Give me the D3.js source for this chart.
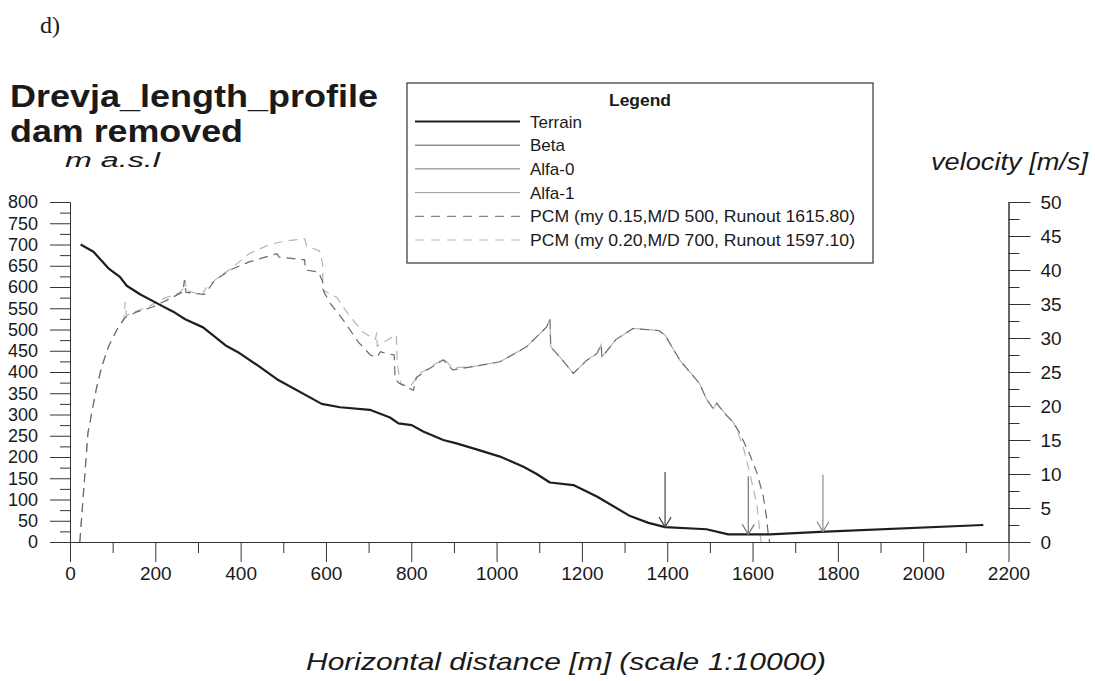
<!DOCTYPE html>
<html>
<head>
<meta charset="utf-8">
<script src="https://cdn.jsdelivr.net/npm/d3@7"></script>
<style>
  body { margin: 0; background: #fff; }
  text { font-family: "Liberation Sans", Arial, sans-serif; fill: #1a1a1a; }
</style>
</head>
<body>
<svg id="chart" width="1095" height="681"></svg>
<script>
// ---- data ----
var terrain = [[25,700],[55,683],[90,644],[117,624],[133,603],[164,583],[211,558],[242,542],[270,524],
  [312,505],[367,461],[398,444],[445,412],[485,383],[590,325],[633,317],[703,311],[750,293],[770,279],
  [801,275],[828,260],[875,240],[906,232],[953,218],[1008,201],[1063,177],[1094,160],[1125,140],
  [1180,134],[1235,107],[1313,61],[1356,45],[1395,35],[1492,30],[1543,18],[1641,18],[1758,24],[2141,40]];

// velocity [m/s] along the path, PCM my 0.15 M/D 500
var pcm1 = [[23,0],[42,16],[61,22.3],[74,25.7],[90,28.7],[109,31.1],[129,33],[155,33.8],[195,34.6],
  [235,35.8],[265,36.8],[268,38.5],[272,36.7],[315,36.4],[340,38.5],[375,40],[420,41.2],[485,42.4],
  [490,41.9],[550,41.5],[552,40],[583,39.7],[592,38.3],[595,36.8],[610,35.1],[641,32.6],[676,29.4],
  [704,27.5],[720,27.2],[728,28],[742,27.7],[760,27.5],[762,24],[770,23.4],[805,22.3],[812,24.2],
  [830,25],[860,26.2],[875,26.8],[897,25.3],[945,25.8],[1008,26.5],[1070,28.7],[1117,31.6],[1125,32.8],
  [1127,28.7],[1155,26.7],[1180,24.8],[1211,26.7],[1235,27.7],[1245,29],[1247,27.2],[1280,29.8],
  [1320,31.4],[1380,31.1],[1395,30.4],[1430,26.7],[1476,23.3],[1492,21],[1508,19.6],[1516,20.4],
  [1538,18.7],[1555,17.6],[1570,16],[1594,12.8],[1610,10.2],[1625,6.8],[1633,3.5],[1637,1],[1640,0]];

// PCM my 0.20 M/D 700
var pcm2 = [[23,0],[42,16],[61,22.3],[74,25.7],[90,28.7],[109,31.1],[127,33],[129,35.3],[132,33.3],
  [150,33.8],[190,34.8],[210,35.6],[255,36.6],[265,37.2],[270,38.5],[272,37],[310,36.3],[318,37.3],
  [345,38.8],[380,40.3],[420,42.4],[470,43.8],[510,44.3],[550,44.6],[555,43.5],[585,42.8],[592,41],
  [593,37],[625,36],[657,33.1],[688,30.8],[716,29.8],[719,30.8],[720,28.8],[765,30.5],[767,26.2],
  [775,23.3],[797,22.8],[820,24.8],[868,26.6],[875,27],[897,25.6],[945,25.8],[1008,26.5],[1070,28.7],
  [1117,31.6],[1125,32.8],[1127,28.7],[1155,26.7],[1180,24.8],[1211,26.7],[1235,27.7],[1245,29],
  [1247,27.2],[1280,29.8],[1320,31.4],[1380,31.1],[1395,30.4],[1430,26.7],[1476,23.3],[1492,21],
  [1508,19.6],[1516,20.4],[1538,18.7],[1555,17.6],[1565,16.2],[1578,14],[1594,10],[1610,5.6],
  [1617,1.5],[1620,0]];

// Beta / Alfa-0 / Alfa-1 arrow positions and the height of their tails
var arrowX = [1395, 1590, 1765];
var arrowTop = [165, 155, 158];
var arrowColor = ["#444", "#777", "#8a8a8a"];

var legendNames = ["Terrain", "Beta", "Alfa-0", "Alfa-1",
  "PCM (my 0.15,M/D 500, Runout 1615.80)", "PCM (my 0.20,M/D 700, Runout 1597.10)"];
var legendColors = ["#222", "#555", "#777", "#999", "#666", "#bbb"];
var legendWidths = [2, 1, 1, 1, 1, 1];
var legendDash = [null, null, null, null, "9,7", "9,7"];

var svg = d3.select("#chart");

var x = d3.scaleLinear().domain([0, 2200]).range([70, 1008.5]);
var y = d3.scaleLinear().domain([0, 800]).range([542, 202]);
var yv = d3.scaleLinear().domain([0, 50]).range([542, 202]);

// axes -- minor ticks first, then major with labels
function styleAxis(size) {
  return function(g) {
    g.select(".domain").attr("stroke", "#333");
    g.selectAll(".tick line").attr("stroke", "#333");
    g.selectAll(".tick text").style("font-size", size + "px").attr("fill", "#1a1a1a");
  };
}

svg.append("g").attr("transform", "translate(0,542)")
  .call(d3.axisBottom(x).tickValues(d3.range(100, 2200, 200)).tickSize(11).tickFormat("").tickSizeOuter(0))
  .call(styleAxis(19));
svg.append("g").attr("transform", "translate(0,542)")
  .call(d3.axisBottom(x).tickValues(d3.range(0, 2201, 200)).tickSize(20).tickPadding(5)
    .tickFormat(d3.format("d")).tickSizeOuter(0))
  .call(styleAxis(19));

svg.append("g").attr("transform", "translate(70,0)")
  .call(d3.axisLeft(y).tickValues(d3.range(25, 800, 50)).tickSize(10).tickFormat("").tickSizeOuter(0))
  .call(styleAxis(18));
svg.append("g").attr("transform", "translate(70,0)")
  .call(d3.axisLeft(y).tickValues(d3.range(0, 801, 50)).tickSize(20).tickPadding(12).tickSizeOuter(0))
  .call(styleAxis(18));

svg.append("g").attr("transform", "translate(1008.5,0)")
  .call(d3.axisRight(yv).tickValues(d3.range(2.5, 50, 5)).tickSize(11).tickFormat("").tickSizeOuter(0))
  .call(styleAxis(19));
svg.append("g").attr("transform", "translate(1008.5,0)")
  .call(d3.axisRight(yv).tickValues(d3.range(0, 51, 5)).tickSize(22).tickPadding(10).tickSizeOuter(0))
  .call(styleAxis(19));

// lines
var lineH = d3.line().x(d => x(d[0])).y(d => y(d[1]));
var lineV = d3.line().x(d => x(d[0])).y(d => yv(d[1]));

svg.append("path").datum(pcm2).attr("d", lineV)
  .attr("fill", "none").attr("stroke", "#b5b5b5").attr("stroke-width", 1.2).attr("stroke-dasharray", "9,6");
svg.append("path").datum(pcm1).attr("d", lineV)
  .attr("fill", "none").attr("stroke", "#6a6a6a").attr("stroke-width", 1.2).attr("stroke-dasharray", "9,6");

svg.append("path").datum(terrain).attr("d", lineH)
  .attr("fill", "none").attr("stroke", "#1e1e1e").attr("stroke-width", 2.2).attr("stroke-linejoin", "round");

// arrows pointing at the terrain
var terrainAt = function(d) {
  var i = d3.bisector(p => p[0]).left(terrain, d);
  var a = terrain[i - 1], b = terrain[i];
  return a[1] + (b[1] - a[1]) * (d - a[0]) / (b[0] - a[0]);
};
arrowX.forEach(function(d, i) {
  var px = x(d), tip = y(terrainAt(d)), top = y(arrowTop[i]);
  var g = svg.append("g").attr("stroke", arrowColor[i]).attr("stroke-width", 1.2).attr("fill", "none");
  g.append("line").attr("x1", px).attr("x2", px).attr("y1", top).attr("y2", tip);
  g.append("path").attr("d", "M" + (px - 6) + "," + (tip - 10) + "L" + px + "," + tip + "L" + (px + 6) + "," + (tip - 10));
});

// legend
var lg = svg.append("g");
lg.append("rect").attr("x", 407).attr("y", 83).attr("width", 466).attr("height", 180)
  .attr("fill", "#fff").attr("stroke", "#444").attr("stroke-width", 1.3);
lg.append("text").attr("x", 640).attr("y", 106).attr("text-anchor", "middle")
  .attr("textLength", 62).attr("lengthAdjust", "spacingAndGlyphs")
  .style("font-size", "16px").style("font-weight", "bold").text("Legend");
legendNames.forEach(function(name, i) {
  var ly = 121.5 + i * 23.7;
  lg.append("line").attr("x1", 415).attr("x2", 520).attr("y1", ly).attr("y2", ly)
    .attr("stroke", legendColors[i]).attr("stroke-width", legendWidths[i])
    .attr("stroke-dasharray", legendDash[i]);
  var t = lg.append("text").attr("x", 530).attr("y", ly + 6).style("font-size", "17px").text(name);
  if (name.length > 10) t.attr("textLength", 325).attr("lengthAdjust", "spacingAndGlyphs");
});

// titles and labels
svg.append("text").attr("x", 40).attr("y", 33)
  .style("font-family", "'Liberation Serif', 'Times New Roman', serif").style("font-size", "24px").text("d)");
svg.append("text").attr("x", 10).attr("y", 107).style("font-size", "32px").style("font-weight", "bold")
  .attr("textLength", 368).attr("lengthAdjust", "spacingAndGlyphs").text("Drevja_length_profile");
svg.append("text").attr("x", 10).attr("y", 142).style("font-size", "31px").style("font-weight", "bold")
  .attr("textLength", 233).attr("lengthAdjust", "spacingAndGlyphs").text("dam removed");
svg.append("text").attr("x", 65).attr("y", 167).style("font-size", "20px").style("font-style", "italic")
  .attr("textLength", 95).attr("lengthAdjust", "spacingAndGlyphs").text("m a.s.l");
svg.append("text").attr("x", 931).attr("y", 170)
  .style("font-size", "23px").style("font-style", "italic")
  .attr("textLength", 157).attr("lengthAdjust", "spacingAndGlyphs").text("velocity [m/s]");
svg.append("text").attr("x", 306).attr("y", 670)
  .style("font-size", "24px").style("font-style", "italic")
  .attr("textLength", 520).attr("lengthAdjust", "spacingAndGlyphs").text("Horizontal distance [m] (scale 1:10000)");
</script>
</body>
</html>
